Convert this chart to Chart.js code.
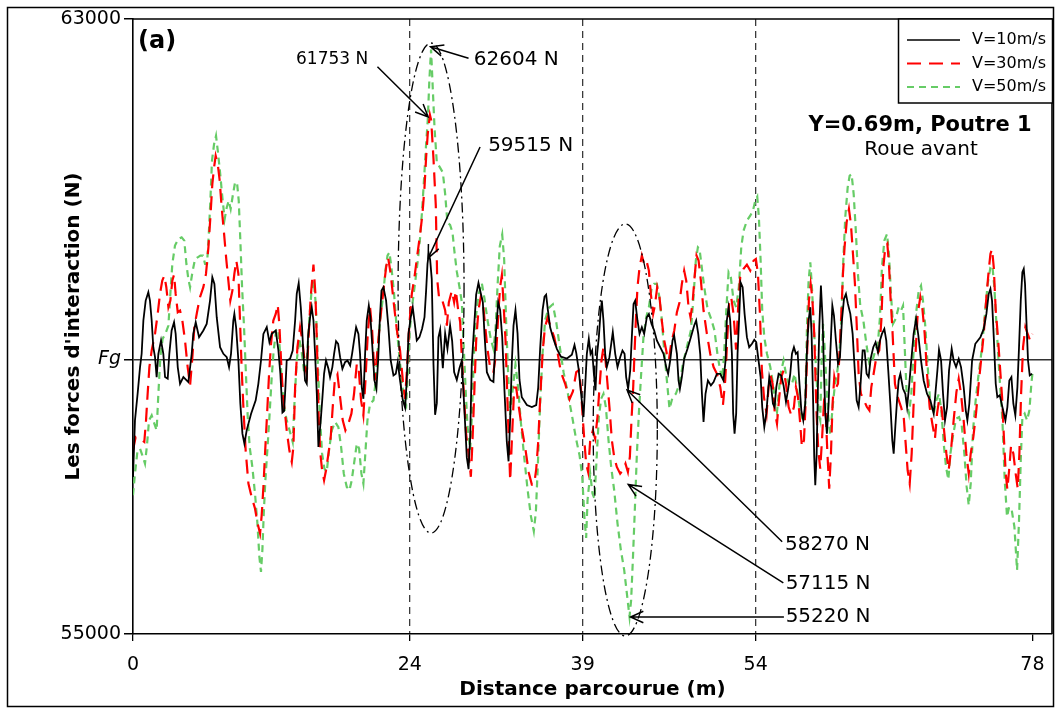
<!DOCTYPE html>
<html>
<head>
<meta charset="utf-8">
<script src="https://cdn.jsdelivr.net/npm/chart.js@4.4.1/dist/chart.umd.min.js"></script>
<style>
  html, body { margin: 0; padding: 0; background: #fff; }
  #wrap { width: 1059px; height: 711px; }
</style>
</head>
<body>
<div id="wrap"><canvas id="chart" width="1059" height="711"></canvas></div>
<script>
// ===================== DATA =====================
// distance (m) and interaction force (N)
const FG = 58570;
const X_TICKS = [0, 24, 39, 54, 78];
const GUIDE_X = [24, 39, 54];
const Y_TICKS = [55000, FG, 63000];
const LABELS = ['V=10m/s', 'V=30m/s', 'V=50m/s'];

const DIST_10 = [0,0.17,0.4,0.61,0.75,0.9,1.1,1.33,1.47,1.62,1.76,1.91,2.05,2.2,2.43,2.63,2.78,3.01,3.15,3.35,3.56,3.7,3.88,4.08,4.37,4.8,5.09,5.23,5.44,5.73,6.1,6.39,6.68,6.88,7.06,7.26,7.55,7.84,8.13,8.33,8.5,8.7,8.79,8.94,9.14,9.31,9.49,9.66,9.86,10.24,10.64,10.87,11.1,11.31,11.6,11.83,12.03,12.38,12.61,12.78,12.96,13.1,13.22,13.33,13.62,13.85,14.06,14.2,14.37,14.55,14.66,14.78,14.92,15.07,15.18,15.36,15.5,15.65,15.79,15.94,16.08,16.28,16.43,16.57,16.74,16.95,17.09,17.29,17.44,17.61,17.79,17.96,18.16,18.39,18.6,18.83,19,19.17,19.35,19.55,19.69,19.84,19.98,20.13,20.27,20.45,20.59,20.76,20.94,21.11,21.26,21.4,21.55,21.72,21.95,22.15,22.35,22.59,22.79,22.96,23.16,23.4,23.6,23.74,23.89,24.09,24.26,24.44,24.61,24.84,25.07,25.28,25.42,25.54,25.65,25.77,25.91,26.06,26.2,26.35,26.49,26.64,26.87,27.07,27.27,27.5,27.68,27.85,28.08,28.31,28.52,28.78,28.95,29.1,29.24,29.38,29.59,29.76,29.96,30.11,30.34,30.48,30.69,30.98,31.26,31.47,31.67,31.84,32.02,32.22,32.42,32.57,32.71,32.86,33,33.17,33.35,33.52,33.72,34.16,34.59,34.97,35.14,35.31,35.52,35.69,35.83,35.98,36.18,36.47,36.76,37.11,37.63,38.06,38.29,38.44,38.64,38.84,39.07,39.24,39.36,39.53,39.68,39.82,39.97,40.11,40.25,40.4,40.54,40.66,40.8,40.95,41.09,41.32,41.61,41.82,42.02,42.25,42.45,42.63,42.77,42.94,43.12,43.26,43.41,43.55,43.75,43.93,44.13,44.33,44.56,44.74,44.97,45.2,45.43,45.72,46.01,46.24,46.41,46.59,46.79,46.93,47.17,47.31,47.43,47.6,47.8,48.09,48.38,48.67,48.84,49.02,49.19,49.34,49.48,49.65,49.86,50.12,50.35,50.64,50.93,51.21,51.39,51.5,51.65,51.79,51.94,52.05,52.17,52.31,52.43,52.57,52.69,52.87,53.04,53.24,53.44,53.68,53.88,54.05,54.25,54.43,54.57,54.75,54.92,55.06,55.18,55.35,55.5,55.64,55.79,55.99,56.22,56.42,56.63,56.8,57,57.15,57.32,57.49,57.64,57.78,57.96,58.13,58.3,58.45,58.59,58.74,58.85,58.97,59.08,59.17,59.29,59.4,59.52,59.66,59.81,59.92,60.04,60.18,60.33,60.47,60.65,60.79,60.96,61.14,61.31,61.48,61.66,61.83,62,62.21,62.41,62.58,62.76,62.93,63.1,63.28,63.45,63.62,63.8,63.97,64.2,64.4,64.61,64.78,64.95,65.16,65.33,65.5,65.68,65.85,65.97,66.11,66.26,66.4,66.55,66.78,66.98,67.13,67.3,67.47,67.7,67.91,68.11,68.34,68.57,68.86,69.15,69.44,69.61,69.76,69.9,70.08,70.25,70.42,70.6,70.77,71,71.17,71.38,71.61,71.81,72.04,72.22,72.36,72.53,72.77,73.05,73.49,73.78,74.01,74.21,74.36,74.5,74.65,74.82,74.96,75.17,75.43,75.66,75.83,76,76.18,76.35,76.52,76.7,76.84,76.99,77.13,77.25,77.36,77.48,77.62,77.77,77.97];
const FORCE_10 = [57043,57779,58125,58472,58645,59078,59337,59446,59337,59078,58731,58601,58342,58645,58818,58645,58342,58320,58645,58948,59056,58904,58472,58255,58342,58277,58645,58904,59056,58861,58948,59034,59337,59640,59554,59121,58731,58645,58601,58472,58645,59078,59164,58991,58558,57995,57606,57476,57649,57866,58039,58255,58558,58904,58991,58796,58904,58948,58688,58385,57880,57900,58212,58558,58580,58688,59078,59424,59562,59251,58991,58645,58298,58255,58861,59121,59251,59078,58645,58125,57432,57779,58082,58385,58558,58450,58342,58472,58645,58809,58775,58601,58450,58536,58558,58493,58645,58818,58991,58904,58645,58212,58060,58645,59078,59272,59121,58731,58298,58190,58558,59078,59467,59511,59337,58991,58558,58363,58385,58536,58298,58039,57943,58298,58904,59121,59251,59034,58818,58861,58970,59121,59467,59813,59950,59869,59617,58507,57851,58003,58860,58961,58457,58911,58709,59011,58810,58406,58305,58457,58558,57801,57297,57145,57549,58507,59011,59415,59566,59465,59314,58911,58406,58305,58280,58911,59314,59213,58860,58154,57498,57246,57801,58558,59011,59213,58911,58305,58079,57978,57952,57978,58205,58709,59213,59390,59415,59213,58986,58835,58709,58608,58583,58633,58759,58658,58457,58154,57822,58298,58645,58839,58645,58688,58385,58168,58645,58861,59164,59337,59078,58645,58472,58601,58926,58645,58472,58601,58688,58645,58342,58190,58428,58861,59294,59337,59078,58904,58991,58904,59121,59164,59034,58948,58818,58731,58645,58472,58385,58558,58818,58883,58645,58298,58190,58342,58580,58710,58861,59013,59078,58904,58645,58125,57757,58125,58298,58234,58277,58385,58385,58298,58558,59078,59251,59078,58645,57866,57606,57866,58645,59121,59575,59511,59164,58861,58731,58775,58826,58796,58558,58342,57952,57692,57866,58125,58342,58212,57995,57952,58212,58385,58363,58233,58017,58168,58385,58645,58731,58645,58666,58298,57909,57779,57995,58688,59078,59251,58904,58125,57303,56935,57346,58212,58991,59532,59078,58428,57866,57606,57995,58645,59272,59143,58818,58515,58601,59078,59359,59424,59294,59164,58904,58472,58039,57952,58255,58688,58688,58385,58342,58580,58731,58796,58666,58818,58904,58969,58818,58428,57995,57519,57346,57692,58039,58298,58385,58190,58125,57952,58212,58515,58904,59099,58883,58558,58298,58125,58039,57866,58168,58428,58697,58558,58125,57779,57952,58428,58710,58558,58472,58580,58472,58212,57909,57779,57995,58558,58775,58861,58969,59164,59424,59489,59337,58861,58255,58082,58104,57930,57779,57952,58298,58342,57995,57844,58212,58731,59337,59705,59749,59554,59078,58558,58363,58385];

const DIST_30 = [0,0.23,0.61,0.98,1.13,1.27,1.42,1.62,1.91,2.14,2.34,2.54,2.72,2.89,3.07,3.24,3.41,3.56,3.7,3.88,4.08,4.28,4.51,4.74,4.95,5.15,5.32,5.55,5.81,6.1,6.33,6.54,6.71,6.88,7.03,7.17,7.35,7.52,7.69,7.9,8.1,8.27,8.44,8.62,8.79,8.96,9.14,9.28,9.43,9.6,9.77,10.01,10.29,10.58,10.81,11.02,11.16,11.31,11.45,11.63,11.8,11.97,12.17,12.38,12.55,12.69,12.84,13.01,13.19,13.33,13.56,13.77,13.91,14.06,14.26,14.49,14.69,14.92,15.07,15.24,15.41,15.65,15.82,15.96,16.11,16.25,16.4,16.57,16.74,16.95,17.15,17.32,17.5,17.73,17.96,18.19,18.42,18.68,18.94,19.17,19.41,19.58,19.78,19.98,20.16,20.36,20.56,20.74,20.97,21.17,21.43,21.72,21.95,22.12,22.35,22.59,22.87,23.16,23.4,23.6,23.77,23.95,24.18,24.41,24.67,24.9,25.1,25.28,25.42,25.56,25.75,25.86,26.06,26.26,26.38,26.55,26.78,27.07,27.22,27.39,27.65,27.85,28,28.2,28.37,28.55,28.72,28.89,29.1,29.3,29.44,29.59,29.76,29.96,30.17,30.34,30.54,30.74,30.98,31.26,31.5,31.7,31.84,31.99,32.13,32.31,32.48,32.71,32.88,33.06,33.23,33.46,33.75,34.04,34.33,34.59,34.79,34.97,35.14,35.31,35.52,35.72,35.95,36.24,36.53,36.82,37.11,37.48,37.86,38.15,38.44,38.67,38.84,39.01,39.15,39.3,39.47,39.65,39.88,40.08,40.28,40.46,40.63,40.8,40.98,41.15,41.32,41.53,41.73,41.96,42.25,42.48,42.71,42.92,43.09,43.23,43.38,43.49,43.61,43.75,43.93,44.13,44.33,44.53,44.74,44.91,45.11,45.26,45.46,45.66,45.86,46.07,46.3,46.47,46.67,46.94,47.17,47.4,47.6,47.8,47.98,48.18,48.35,48.52,48.7,48.87,49.05,49.25,49.48,49.77,50.06,50.35,50.64,50.93,51.16,51.36,51.53,51.71,51.88,52.08,52.3,52.5,52.66,52.95,53.24,53.53,53.82,54.02,54.2,54.37,54.54,54.72,54.95,55.12,55.3,55.47,55.64,55.85,56.02,56.22,56.42,56.63,56.86,57.09,57.32,57.49,57.67,57.84,58.01,58.19,58.33,58.48,58.62,58.77,58.91,59.08,59.26,59.43,59.6,59.75,59.92,60.07,60.21,60.38,60.53,60.67,60.82,60.99,61.14,61.28,61.43,61.57,61.71,61.89,62.09,62.26,62.44,62.61,62.76,62.93,63.13,63.39,63.65,63.86,64.03,64.23,64.49,64.72,64.9,65.07,65.24,65.42,65.56,65.71,65.85,66.08,66.32,66.61,66.84,67.01,67.18,67.36,67.53,67.7,67.88,68.05,68.28,68.46,68.66,68.86,69.09,69.32,69.55,69.73,69.9,70.1,70.31,70.54,70.74,70.94,71.17,71.41,71.61,71.81,72.04,72.27,72.48,72.65,72.88,73.11,73.34,73.55,73.78,74.01,74.21,74.36,74.5,74.65,74.82,74.99,75.17,75.37,75.54,75.69,75.83,75.98,76.15,76.35,76.55,76.73,76.87,77.02,77.19,77.39,77.59,77.8,78];
const FORCE_30 = [57389,57563,57541,57498,57779,58125,58472,58688,58904,59164,59424,59597,59662,59511,59251,59337,59597,59675,59424,59186,59208,59078,58818,58472,58233,58601,58991,59186,59381,59511,59684,60030,60420,60852,61069,61220,61112,60896,60549,60203,59857,59597,59337,59467,59684,59857,59684,59078,58428,57866,57389,56956,56783,56632,56437,56307,56545,56913,57346,57866,58385,58775,59078,59164,59285,59034,58558,58082,57866,57649,57389,57238,57433,58212,58731,58991,58818,58493,58385,58904,59381,59805,59424,58731,57779,57346,57130,57000,57130,57346,57563,57952,58298,58376,58082,57779,57649,57736,57866,58125,58515,58428,58039,57844,58298,58904,59251,58948,58298,58645,59078,59467,59770,59900,59684,59337,58970,58688,58298,58060,58472,58991,59424,59640,59943,60203,60463,60809,61199,61502,61753,61684,61180,60575,59616,59364,59364,59213,59011,59314,59465,59314,59465,59213,59062,58507,58053,57599,57347,57045,57498,58104,58810,59213,59390,59314,59011,58709,58457,58406,58658,59213,59516,59667,59314,58810,58003,56994,57599,58205,58205,57952,57650,57397,57095,56944,56944,57145,57498,58053,58658,58986,59112,58986,58860,58658,58406,58255,58053,58154,58406,58431,58205,57801,57500,57216,57108,57519,57649,57541,57822,58212,58558,58731,58558,58255,57952,57519,57303,57173,57086,57130,57216,57108,57303,57779,58212,58645,59078,59511,59770,59922,59813,59857,59727,59424,59164,59272,59511,59381,59078,58818,58645,58558,58775,58948,59186,59316,59554,59727,59597,59251,59121,59294,59640,59922,59857,59597,59208,58904,58645,58472,58385,58212,57974,58298,58818,59337,59381,59164,58700,59300,59640,59749,59805,59727,59857,59878,59684,59164,58428,58082,57866,58212,58363,58255,57909,57736,58039,58342,58428,58255,57952,57844,57952,58212,58082,57779,57433,57519,57995,58731,59337,59554,59381,58904,57952,57389,57151,57519,57995,57909,57389,56891,57346,57995,58342,58212,58255,58688,59164,59684,60030,60355,60528,60333,59943,59554,59034,58385,58125,58039,57952,57909,58212,58385,58623,58688,59078,59770,60030,60073,59813,59337,58991,58255,58082,57952,57822,57476,57130,56956,57346,57995,58688,59164,59381,59229,58904,58385,57952,57736,57541,57866,58039,57952,57692,57346,57130,57389,57779,58147,58320,58125,57779,57346,57086,57346,57563,57866,58255,58558,58904,59381,59727,59943,60008,59770,59208,58904,58515,58082,57519,57086,56878,57130,57454,57346,57086,56891,57346,58125,58731,58991,58904,58818,58904];

const DIST_50 = [0,0.17,0.38,0.61,0.81,1.04,1.21,1.39,1.62,1.85,2.05,2.2,2.37,2.57,2.83,3.07,3.24,3.41,3.64,3.93,4.22,4.45,4.63,4.8,4.95,5.15,5.38,5.61,5.84,6.07,6.25,6.42,6.56,6.71,6.85,7.03,7.2,7.37,7.55,7.75,7.95,8.13,8.3,8.47,8.65,8.85,9.02,9.17,9.31,9.46,9.63,9.77,9.95,10.12,10.35,10.58,10.79,10.96,11.1,11.22,11.34,11.48,11.65,11.83,12.03,12.2,12.41,12.58,12.72,12.9,13.07,13.33,13.62,13.85,14,14.2,14.43,14.63,14.86,15.07,15.3,15.5,15.67,15.85,16.02,16.2,16.4,16.6,16.8,17,17.24,17.53,17.81,18.05,18.28,18.54,18.77,18.97,19.17,19.41,19.61,19.81,19.98,20.13,20.33,20.56,20.85,21.02,21.2,21.43,21.66,21.89,22.07,22.24,22.41,22.62,22.82,23.05,23.28,23.51,23.69,23.83,24,24.23,24.47,24.7,24.9,25.07,25.25,25.42,25.56,25.7,25.85,26,26.15,26.35,26.58,26.87,27.07,27.27,27.5,27.71,27.88,28.08,28.31,28.52,28.66,28.84,29.01,29.24,29.41,29.56,29.73,29.96,30.25,30.48,30.74,31.03,31.26,31.44,31.61,31.81,32.02,32.19,32.36,32.54,32.71,32.91,33.17,33.4,33.64,33.93,34.21,34.5,34.76,34.94,35.11,35.31,35.52,35.75,36.04,36.41,36.7,36.99,37.34,37.68,38.06,38.41,38.73,38.96,39.16,39.3,39.42,39.65,39.85,40.02,40.23,40.4,40.6,40.8,41.01,41.24,41.47,41.73,42.02,42.31,42.6,42.83,43.06,43.2,43.35,43.52,43.7,43.87,44.07,44.27,44.51,44.74,44.97,45.2,45.43,45.63,45.84,46.07,46.3,46.53,46.76,47.08,47.4,47.69,48.03,48.38,48.61,48.81,48.99,49.13,49.31,49.54,49.83,50.14,50.43,50.72,50.93,51.1,51.27,51.45,51.65,51.85,52.08,52.31,52.54,52.75,52.95,53.24,53.53,53.76,53.97,54.14,54.28,54.43,54.57,54.75,54.98,55.27,55.53,55.7,55.85,56.02,56.19,56.42,56.65,56.91,57.15,57.38,57.61,57.84,58.13,58.3,58.45,58.59,58.74,58.88,59.05,59.26,59.46,59.6,59.72,59.84,59.98,60.15,60.3,60.47,60.65,60.85,61.05,61.25,61.43,61.6,61.77,61.98,62.15,62.32,62.5,62.67,62.87,63.07,63.34,63.6,63.86,64.09,64.38,64.61,64.78,64.95,65.16,65.39,65.56,65.73,65.91,66.14,66.4,66.61,66.78,66.95,67.13,67.3,67.5,67.7,67.94,68.14,68.34,68.51,68.72,68.92,69.15,69.44,69.67,69.9,70.1,70.31,70.51,70.71,70.89,71.12,71.38,71.64,71.87,72.1,72.3,72.48,72.65,72.85,73.08,73.34,73.6,73.86,74.12,74.36,74.53,74.7,74.93,75.17,75.4,75.6,75.8,75.98,76.21,76.44,76.67,76.84,76.99,77.13,77.33,77.54,77.74,77.91,78];
const FORCE_50 = [56805,57086,57368,57411,57324,57216,57454,57779,57844,57736,57649,58125,58601,58840,58913,59013,59424,59813,60052,60138,60160,60117,59813,59619,59511,59705,59878,59900,59922,59922,59813,59813,60160,60636,61156,61372,61480,61264,61004,60679,60398,60549,60636,60528,60701,60874,60874,60636,60117,59511,58991,58472,57822,57432,57173,56827,56437,56004,55809,56091,56567,57000,57389,57822,58342,58688,58948,58969,58731,58298,57990,57779,57627,57498,57995,58558,58840,58666,58385,58558,59121,59489,59597,59294,58558,57866,57346,57151,57108,57389,57649,57757,57692,57432,57086,56913,56870,57000,57216,57476,57411,57086,56956,57303,57779,57995,58039,58255,58645,59078,59359,59727,59922,59965,59770,59467,59078,58688,58342,58039,57974,58385,58948,59294,59575,59857,60160,60506,60939,61372,61675,62200,62604,62088,61583,61129,61079,61003,60726,60348,60322,60222,59970,59717,59516,59314,58810,58205,57700,57398,57902,58608,59112,59415,59566,59364,59087,58835,58709,58961,59516,60045,60197,59869,59062,58356,57851,58154,58507,58205,57751,57297,56893,56540,56339,56591,57196,58003,58658,59087,59238,59289,59062,58759,58406,58154,57851,57549,57322,57045,56490,56250,56740,57086,56827,56762,57346,57822,58060,58125,57952,57519,57173,56870,56437,56091,55831,55528,55225,55441,55961,56610,57346,57866,58385,58861,59121,59251,59489,59554,59554,59402,59121,58688,58298,57930,58060,58125,58255,58515,58731,58948,59381,59857,60030,60008,59792,59511,59229,59099,58948,58601,58428,58320,58645,59208,59705,59640,59337,59251,59511,60030,60246,60376,60441,60506,60636,60688,60420,59857,59208,58861,58645,58472,58233,57995,57887,58168,58407,58558,58363,58233,58255,58385,58168,57909,57757,57995,58991,59597,59835,59511,58991,58385,57866,57779,58558,59034,58731,58212,57822,57584,57909,58212,58385,58601,59078,59857,60420,60809,60961,60982,60723,60290,59684,59272,59078,58775,58515,58537,58688,58796,59121,59770,60117,60203,59943,59424,59034,59099,59251,59208,59272,58645,57995,57866,58125,58688,59208,59467,59532,59337,58991,58472,57995,57866,58039,58125,57909,57476,57173,57008,57346,57584,57801,57822,57714,57346,56913,56675,56956,57649,58039,58385,58688,59121,59554,59770,59792,59511,58904,58298,57779,57000,56524,56653,56610,56394,55831,56480,57260,57822,57866,57779,57909,58255,58385];

// call-outs: value arrows, in data units (m, N)
const CALLOUTS = [
  { text: '62604 N', size: 20, tip: [25.8, 62640], tail: [29.1, 62490], at: [29.55, 62470], align: 'left' },
  { text: '61753 N', size: 17, tip: [25.6, 61725], tail: [21.2, 62380], at: [20.4, 62470], align: 'right' },
  { text: '59515 N', size: 20, tip: [25.6, 59890], tail: [30.1, 61335], at: [30.8, 61350], align: 'left' },
  { text: '58270 N', size: 20, tip: [42.85, 58175], tail: [56.3, 56200], at: [56.55, 56160], align: 'left' },
  { text: '57115 N', size: 20, tip: [42.95, 56945], tail: [56.4, 55665], at: [56.6, 55650], align: 'left' },
  { text: '55220 N', size: 20, tip: [43.15, 55221], tail: [56.45, 55221], at: [56.6, 55221], align: 'left' },
];
// ellipses around the extremes: centre and half-axes in data units
const ELLIPSES = [
  { cx: 25.85, cy: 59501, rx: 2.86, ry: 3187 },
  { cx: 42.69, cy: 57654, rx: 2.78, ry: 2680 },
];

// ===================== CHART =====================
const FONT = "'DejaVu Sans', Verdana, sans-serif";
Chart.defaults.font.family = FONT;
Chart.defaults.color = '#000';

const STYLES = [
  { color: '#000000', width: 1.8, dash: [] },
  { color: '#ff0000', width: 2.2, dash: [14, 8] },
  { color: '#66cc66', width: 2.2, dash: [7, 5] },
];

const points = (xs, ys) => xs.map((x, i) => ({ x, y: ys[i] }));
const SERIES = [points(DIST_10, FORCE_10), points(DIST_30, FORCE_30), points(DIST_50, FORCE_50)];

function arrow(ctx, x1, y1, x2, y2) {
  const a = Math.atan2(y2 - y1, x2 - x1), L = 14, s = 0.42;
  ctx.beginPath();
  ctx.moveTo(x1, y1); ctx.lineTo(x2, y2);
  ctx.moveTo(x2 - L * Math.cos(a - s), y2 - L * Math.sin(a - s));
  ctx.lineTo(x2, y2);
  ctx.lineTo(x2 - L * Math.cos(a + s), y2 - L * Math.sin(a + s));
  ctx.stroke();
}

const decor = {
  id: 'decor',
  beforeDraw(chart) {
    const { ctx, width, height } = chart;
    ctx.save();
    ctx.fillStyle = '#fff';
    ctx.fillRect(0, 0, width, height);
    ctx.restore();
  },
  afterDraw(chart) {
    const { ctx, chartArea: a, scales: { x, y } } = chart;
    const px = v => x.getPixelForValue(v), py = v => y.getPixelForValue(v);
    ctx.save();
    ctx.strokeStyle = '#000';

    // plot frame (top + right) and outer frame
    ctx.lineWidth = 1.6;
    ctx.beginPath();
    ctx.moveTo(a.left, a.top); ctx.lineTo(a.right, a.top); ctx.lineTo(a.right, a.bottom);
    ctx.stroke();
    ctx.lineWidth = 1.5;
    ctx.strokeRect(7.5, 7.5, 1046, 699);

    // dash-dot ellipses
    ctx.lineWidth = 1.3;
    ctx.setLineDash([10, 4, 2, 4]);
    ELLIPSES.forEach(e => {
      const cx = px(e.cx), cy = py(e.cy);
      ctx.beginPath();
      ctx.ellipse(cx, cy, px(e.cx + e.rx) - cx, cy - py(e.cy + e.ry), 0, 0, Math.PI * 2);
      ctx.stroke();
    });
    ctx.setLineDash([]);

    // arrows + values
    ctx.lineWidth = 1.5;
    ctx.fillStyle = '#000';
    ctx.textBaseline = 'middle';
    CALLOUTS.forEach(c => {
      arrow(ctx, px(c.tail[0]), py(c.tail[1]), px(c.tip[0]), py(c.tip[1]));
      ctx.font = `${c.size}px ${FONT}`;
      ctx.textAlign = c.align;
      ctx.fillText(c.text, px(c.at[0]), py(c.at[1]));
    });

    // panel texts
    ctx.textAlign = 'left';
    ctx.font = `bold 24px ${FONT}`;
    ctx.fillText('(a)', a.left + 5, a.top + 23);
    ctx.textAlign = 'center';
    ctx.font = `bold 21px ${FONT}`;
    ctx.fillText('Y=0.69m, Poutre 1', a.right - 132, a.top + 107);
    ctx.font = `20px ${FONT}`;
    ctx.fillText('Roue avant', a.right - 131, a.top + 131);

    // legend box in the top-right corner
    const lw = 154, lh = 84, lx = a.right - lw, ly = a.top;
    ctx.fillStyle = '#fff';
    ctx.fillRect(lx, ly, lw, lh);
    ctx.lineWidth = 1.5;
    ctx.strokeRect(lx + 0.5, ly, lw, lh);
    ctx.textAlign = 'left';
    ctx.font = `16px ${FONT}`;
    chart.data.datasets.forEach((ds, i) => {
      const yy = ly + 21 + i * 23.5;
      ctx.strokeStyle = ds.borderColor;
      ctx.lineWidth = i === 0 ? 1.5 : 2;
      ctx.setLineDash(ds.borderDash);
      ctx.beginPath(); ctx.moveTo(lx + 9, yy); ctx.lineTo(lx + 62, yy); ctx.stroke();
      ctx.setLineDash([]);
      ctx.fillStyle = '#000';
      ctx.fillText(ds.label, lx + 74, yy);
    });
    ctx.restore();
  }
};

new Chart(document.getElementById('chart'), {
  type: 'line',
  data: {
    datasets: SERIES.map((data, i) => ({
      label: LABELS[i],
      data,
      borderColor: STYLES[i].color,
      borderWidth: STYLES[i].width,
      borderDash: STYLES[i].dash,
      pointRadius: 0,
      tension: 0,
      fill: false,
    })),
  },
  options: {
    responsive: false,
    animation: false,
    devicePixelRatio: 1,
    layout: { padding: { left: 0, top: 19, right: 7, bottom: 0 } },
    plugins: { legend: { display: false }, tooltip: { enabled: false } },
    scales: {
      x: {
        type: 'linear', min: 0, max: 79.7,
        afterBuildTicks: s => { s.ticks = X_TICKS.map(v => ({ value: v })); },
        afterFit: s => { s.height = 77; },
        ticks: { color: '#000', font: { size: 19 }, padding: 13, maxRotation: 0, autoSkip: false, callback: v => String(v) },
        grid: {
          color: c => (c.tick && GUIDE_X.includes(c.tick.value)) ? '#3a3a3a' : 'rgba(0,0,0,0)',
          lineWidth: 1.3, tickColor: '#000', tickLength: 7, tickWidth: 1.3,
        },
        border: { color: '#000', width: 1.6, dash: [7, 5] },
        title: { display: true, text: 'Distance parcourue (m)', color: '#000', font: { size: 20, weight: 'bold' }, padding: { top: 0, bottom: 9 } },
      },
      y: {
        min: 55000, max: 63000,
        afterBuildTicks: s => { s.ticks = Y_TICKS.map(v => ({ value: v })); },
        afterFit: s => { s.width = 133; },
        ticks: {
          color: '#000', padding: 3,
          font: c => ({ size: 19, style: (c.tick && c.tick.value === FG) ? 'italic' : 'normal' }),
          callback: v => v === FG ? 'Fg' : String(v),
        },
        grid: {
          color: c => (c.tick && c.tick.value === FG) ? '#333' : 'rgba(0,0,0,0)',
          lineWidth: 1.5, tickColor: '#000', tickLength: 9,
        },
        border: { color: '#000', width: 1.6 },
        title: { display: true, text: "Les forces d'interaction (N)", color: '#000', font: { size: 20, weight: 'bold' }, padding: { top: 62, bottom: 0 } },
      },
    },
  },
  plugins: [decor],
});
</script>
</body>
</html>
